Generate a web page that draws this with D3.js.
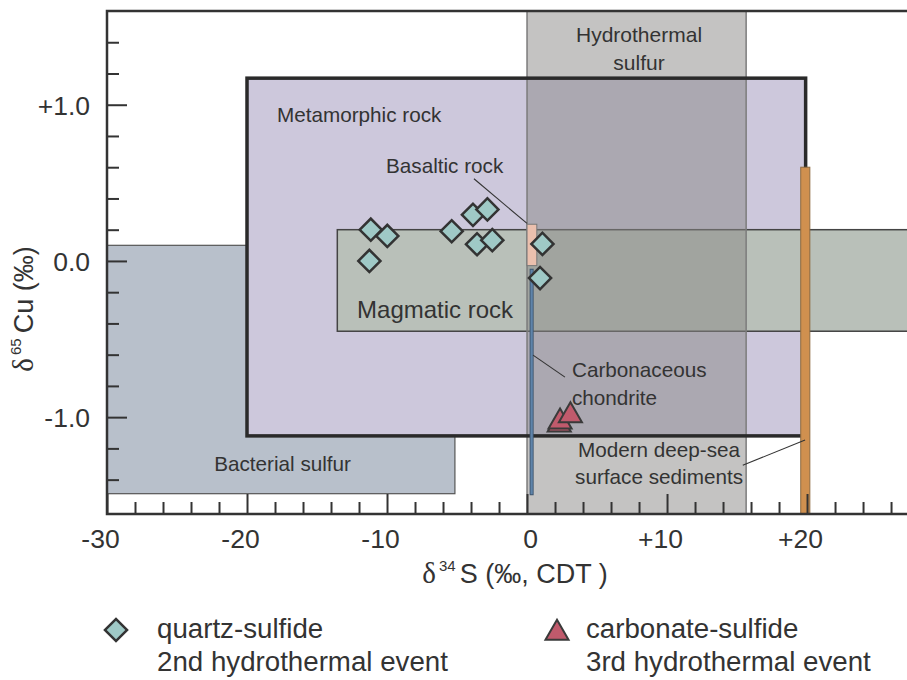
<!DOCTYPE html>
<html>
<head>
<meta charset="utf-8">
<script src="https://cdn.jsdelivr.net/npm/d3@7"></script>
<style>
  body { margin: 0; background: #fff; }
  svg text { font-family: "Liberation Sans", Arial, sans-serif; fill: #333; }
</style>
</head>
<body>
<div id="chart"></div>
<script>
// field extents, delta34S (permil) and delta65Cu (permil)
var bacterialS = [-30, -5.15], bacterialCu = [-1.49, 0.1];
var metamorphicS = [-20, 19.9], metamorphicCu = [-1.12, 1.17];
var magmaticS = [-13.55, 30], magmaticCu = [-0.45, 0.2];
var hydrothermalS = [0, 15.65], hydrothermalCu = [-1.62, 1.6];
var basalticS = [0, 0.7], basalticCu = [-0.03, 0.235];
var chondriteS = 0.33, chondriteCu = [-1.5, -0.05];
var sedimentS = [19.55, 20.2], sedimentCu = [-1.62, 0.6];

// samples
var quartzS = [-11.16, -9.98, -11.26, -5.38, -3.86, -2.83, -3.57, -2.48, 1.1, 0.93];
var quartzCu = [0.2, 0.16, 0.0, 0.19, 0.295, 0.33, 0.107, 0.133, 0.109, -0.11];
var carbonateS = [2.3, 2.36, 3.1];
var carbonateCu = [-1.05, -1.03, -0.99];

// ticks
var xMajor = [-30, -20, -10, 0, 10, 20];
var yMajor = [-1, 0, 1];
var xMinor = [-28, -26, -24, -22, -18, -16, -14, -12, -8, -6, -4, -2, 2, 4, 6, 8, 12, 14, 16, 18, 22, 24, 26];
var yMinor = [-1.4, -1.2, -0.8, -0.6, -0.4, -0.2, 0.2, 0.4, 0.6, 0.8, 1.2, 1.4];

var width = 907, height = 680;

var svg = d3.select("#chart").append("svg")
  .attr("width", width)
  .attr("height", height);

var x = d3.scaleLinear().domain([-30, 27.14]).range([107, 907]);
var y = d3.scaleLinear().domain([-1.62, 1.6]).range([514, 11]);

function box(g, sr, cr) {
  return g.append("rect")
    .attr("x", x(sr[0]))
    .attr("y", y(cr[1]))
    .attr("width", x(sr[1]) - x(sr[0]))
    .attr("height", y(cr[0]) - y(cr[1]));
}

svg.append("clipPath").attr("id", "plotclip")
  .append("rect").attr("x", 107).attr("y", 11).attr("width", 800).attr("height", 503);

var fields = svg.append("g").attr("clip-path", "url(#plotclip)");

box(fields, bacterialS, bacterialCu)
  .attr("fill", "#b8c0cb").attr("stroke", "#555").attr("stroke-width", 1.2);

box(fields, metamorphicS, metamorphicCu).attr("fill", "#cdc8dc");

box(fields, magmaticS, magmaticCu)
  .attr("fill", "#b9c0b9").attr("stroke", "#444").attr("stroke-width", 1.5);

box(fields, hydrothermalS, hydrothermalCu)
  .attr("fill", "#8a8886").attr("fill-opacity", 0.5)
  .attr("stroke", "#7c7c7c").attr("stroke-width", 1.5);

box(fields, metamorphicS, metamorphicCu)
  .attr("fill", "none").attr("stroke", "#2a2a2a").attr("stroke-width", 3.5);

box(fields, basalticS, basalticCu)
  .attr("fill", "#ebc0ae").attr("stroke", "#777").attr("stroke-width", 1);

// carbonaceous chondrite
fields.append("line")
  .attr("x1", x(chondriteS)).attr("x2", x(chondriteS))
  .attr("y1", y(chondriteCu[1])).attr("y2", y(chondriteCu[0]))
  .attr("stroke", "#3d556e").attr("stroke-width", 4);
fields.append("line")
  .attr("x1", x(chondriteS)).attr("x2", x(chondriteS))
  .attr("y1", y(chondriteCu[1]) + 1).attr("y2", y(chondriteCu[0]) - 1)
  .attr("stroke", "#5f84aa").attr("stroke-width", 2.2);

box(fields, sedimentS, sedimentCu)
  .attr("fill", "#d0904f").attr("stroke", "#8d6a40").attr("stroke-width", 1);

// axes: ticks point inward
var yAxisMinor = d3.axisLeft(y).tickValues(yMinor).tickSize(-12).tickFormat("");
var yAxisMajor = d3.axisLeft(y).tickValues(yMajor).tickSize(-20).tickPadding(17)
  .tickFormat(function(d) { return d > 0 ? "+" + d.toFixed(1) : d.toFixed(1); });
var xAxisMinor = d3.axisBottom(x).tickValues(xMinor).tickSize(-12).tickFormat("");
var xAxisMajor = d3.axisBottom(x).tickValues(xMajor).tickSize(-20).tickPadding(15)
  .tickFormat(function(d) { return d > 0 ? "+" + d : String(d); });

[yAxisMinor, yAxisMajor].forEach(function(a) {
  svg.append("g").attr("class", "y-axis").attr("transform", "translate(107,0)").call(a);
});
[xAxisMinor, xAxisMajor].forEach(function(a) {
  svg.append("g").attr("class", "x-axis").attr("transform", "translate(0,514)").call(a);
});
svg.selectAll(".domain").remove();
svg.selectAll(".tick line").attr("stroke", "#333").attr("stroke-width", 2);
svg.selectAll(".tick text").style("font-size", "26.5px").attr("fill", "#333")
  .style("font-family", "'Liberation Sans', Arial, sans-serif");
svg.selectAll(".x-axis .tick text").attr("dx", function(d) { return d === 0 ? 3 : -7; });
svg.selectAll(".y-axis .tick text").attr("dy", "0.35em");

// frame
svg.append("path")
  .attr("d", "M907,11H107V514H907")
  .attr("fill", "none").attr("stroke", "#333").attr("stroke-width", 2.5);

// axis titles
var xt = svg.append("text")
  .attr("x", 515).attr("y", 583)
  .attr("text-anchor", "middle")
  .style("font-size", "27px");
xt.append("tspan").style("font-family", "'Liberation Serif', serif").style("font-size", "29px").text("\u03b4");
xt.append("tspan").attr("dy", -12).attr("dx", 3).style("font-size", "15px").text("34");
xt.append("tspan").attr("dy", 12).attr("dx", 4).text("S (\u2030,  CDT )");

var yt = svg.append("text")
  .attr("transform", "translate(33,309) rotate(-90)")
  .attr("text-anchor", "middle")
  .style("font-size", "27px");
yt.append("tspan").style("font-family", "'Liberation Serif', serif").style("font-size", "29px").text("\u03b4");
yt.append("tspan").attr("dy", -12).attr("dx", 3).style("font-size", "15px").text("65");
yt.append("tspan").attr("dy", 12).attr("dx", 5).text("Cu (\u2030)");

// field labels
function label(sx, cy, str, size, anchor) {
  return svg.append("text")
    .attr("x", x(sx)).attr("y", y(cy))
    .attr("text-anchor", anchor || "start")
    .style("font-size", size + "px")
    .text(str);
}
label(-17.86, 0.89, "Metamorphic rock", 20.7);
label(-10.07, 0.56, "Basaltic rock", 20.7);
label(-12.14, -0.365, "Magmatic rock", 24);
label(8.0, 1.4, "Hydrothermal", 21, "middle");
label(8.0, 1.22, "sulfur", 21, "middle");
label(3.21, -0.744, "Carbonaceous", 20.7);
label(3.21, -0.923, "chondrite", 20.7);
label(9.43, -1.254, "Modern deep-sea", 20.7, "middle");
label(9.43, -1.43, "surface sediments", 20.7, "middle");
label(-17.46, -1.346, "Bacterial sulfur", 20.7, "middle");

// leader lines
function leader(s1, c1, s2, c2) {
  svg.append("line")
    .attr("x1", x(s1)).attr("y1", y(c1))
    .attr("x2", x(s2)).attr("y2", y(c2))
    .attr("stroke", "#333").attr("stroke-width", 1.1);
}
leader(-3.79, 0.526, 0, 0.24);
leader(0.43, -0.603, 2.71, -0.744);
leader(15.41, -1.308, 19.86, -1.147);

// samples
var diamond = d3.symbol().type(d3.symbolSquare).size(245);
var triangle = d3.symbol().type(d3.symbolTriangle).size(230);

svg.append("g").selectAll("path")
  .data(carbonateS)
  .enter()
  .append("path")
  .attr("d", triangle)
  .attr("transform", function(d, i) {
    return "translate(" + x(d) + "," + y(carbonateCu[i]) + ")";
  })
  .attr("fill", "#c05a6c").attr("stroke", "#3a3a3a").attr("stroke-width", 2);

svg.append("g").selectAll("path")
  .data(quartzS)
  .enter()
  .append("path")
  .attr("d", diamond)
  .attr("transform", function(d, i) {
    return "translate(" + x(d) + "," + y(quartzCu[i]) + ") rotate(45)";
  })
  .attr("fill", "#9fc9c6").attr("stroke", "#333").attr("stroke-width", 2.5);

// legend
svg.append("path").attr("d", diamond)
  .attr("transform", "translate(116,630) rotate(45)")
  .attr("fill", "#9fc9c6").attr("stroke", "#333").attr("stroke-width", 2.5);
svg.append("path").attr("d", triangle)
  .attr("transform", "translate(557,633)")
  .attr("fill", "#c05a6c").attr("stroke", "#3a3a3a").attr("stroke-width", 2);

var legendText = [
  ["quartz-sulfide", "2nd hydrothermal event", 157],
  ["carbonate-sulfide", "3rd hydrothermal event", 586]
];
legendText.forEach(function(l) {
  svg.append("text").attr("x", l[2]).attr("y", 638).style("font-size", "27.7px").text(l[0]);
  svg.append("text").attr("x", l[2]).attr("y", 671).style("font-size", "27.7px").text(l[1]);
});
</script>
</body>
</html>
